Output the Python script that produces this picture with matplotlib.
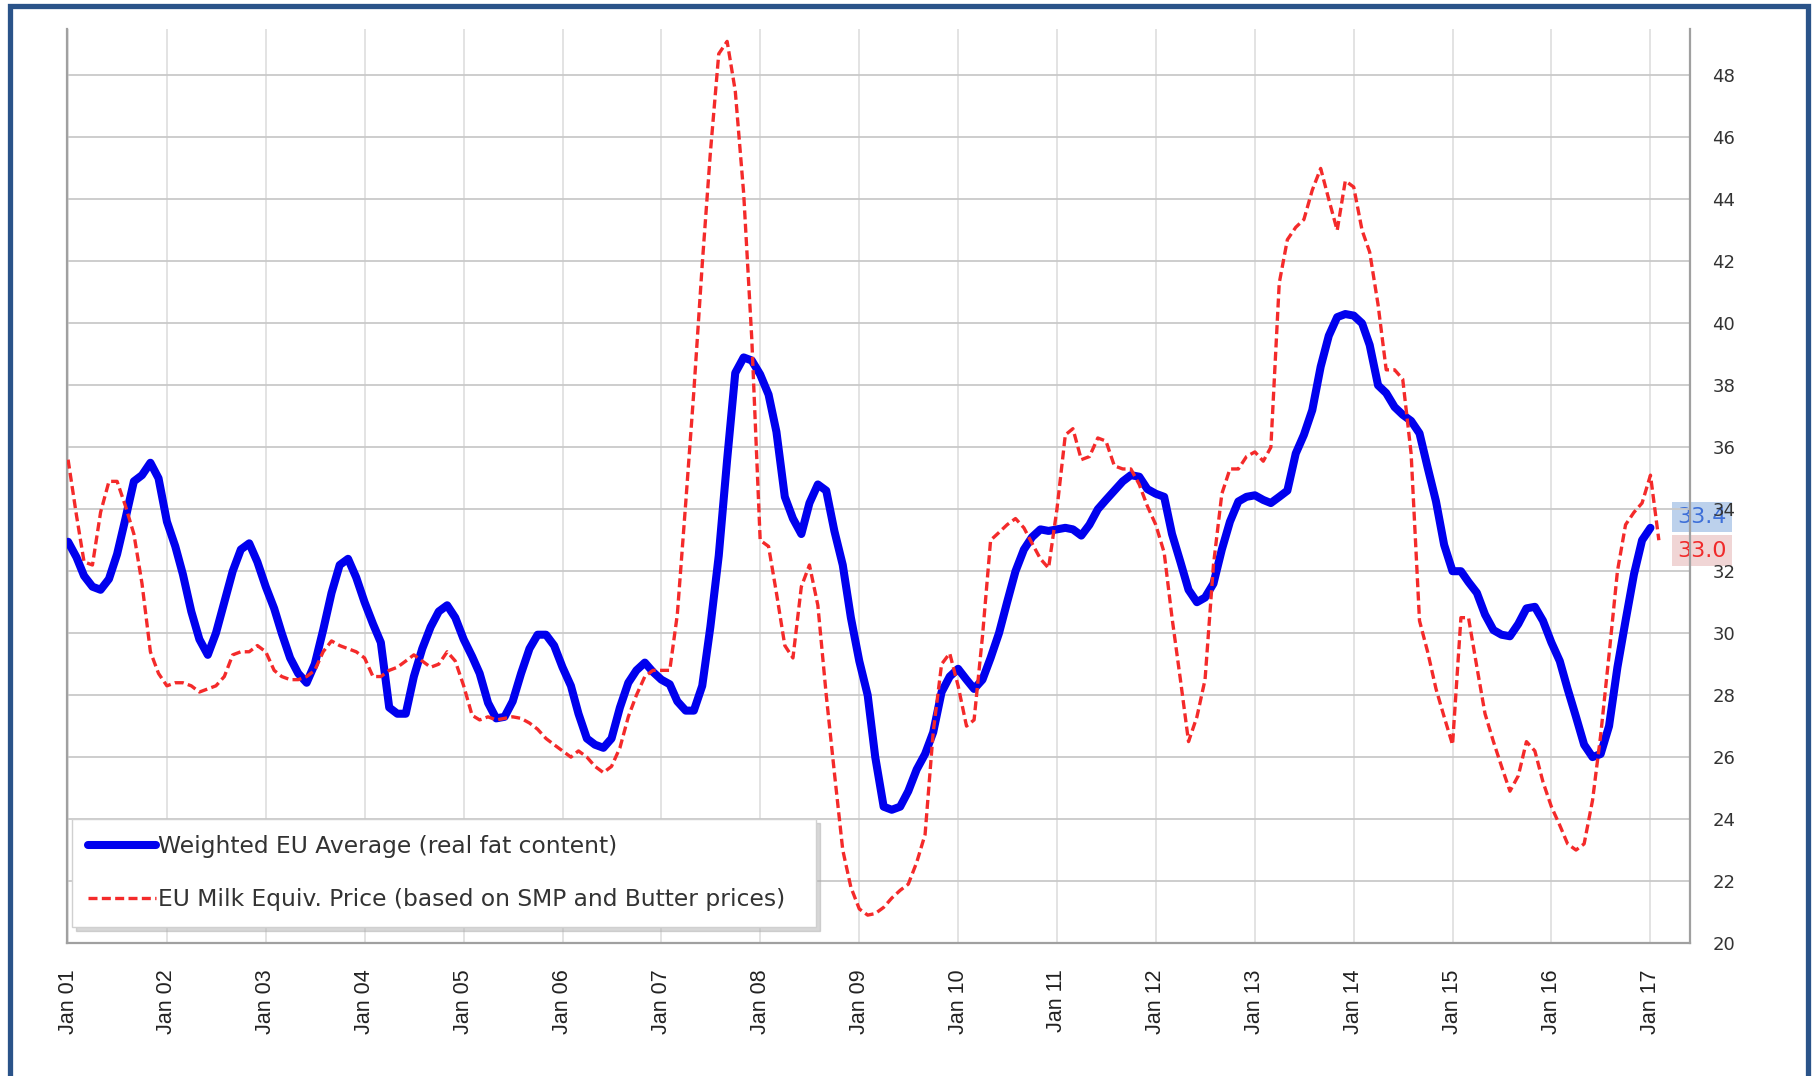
import numpy as np
import pandas as pd
import matplotlib
matplotlib.use("Agg")
import matplotlib.pyplot as plt
import matplotlib.transforms as mtransforms
from matplotlib.patches import Rectangle

# ---------------- data (monthly, from Jan 2001) ----------------
weighted_eu_avg = [
    32.95, 32.45, 31.85, 31.5, 31.4, 31.75, 32.55, 33.7, 34.9, 35.1, 35.5, 35.0,
    33.6, 32.8, 31.9, 30.7, 29.8, 29.3, 30.0, 31.0, 32.0, 32.7, 32.9, 32.3,
    31.5, 30.8, 30.0, 29.2, 28.7, 28.4, 29.0, 30.1, 31.3, 32.2, 32.4, 31.8,
    31.0, 30.3, 29.7, 27.6, 27.4, 27.4, 28.6, 29.5, 30.2, 30.7, 30.9, 30.5,
    29.8, 29.25, 28.7, 27.75, 27.25, 27.3, 27.8, 28.7, 29.5, 29.95, 29.95, 29.6,
    28.9, 28.3, 27.4, 26.6, 26.4, 26.3, 26.6, 27.6, 28.4, 28.8, 29.05, 28.75,
    28.5, 28.35, 27.8, 27.5, 27.5, 28.3, 30.2, 32.5, 35.6, 38.4, 38.9, 38.8,
    38.35, 37.7, 36.5, 34.4, 33.7, 33.2, 34.2, 34.8, 34.6, 33.3, 32.2, 30.5,
    29.1, 28.0, 26.0, 24.4, 24.3, 24.4, 24.9, 25.6, 26.1, 26.8, 28.1, 28.6,
    28.85, 28.5, 28.2, 28.5, 29.2, 30.0, 31.0, 32.0, 32.7, 33.1, 33.35, 33.3,
    33.35, 33.4, 33.35, 33.15, 33.5, 34.0, 34.3, 34.6, 34.9, 35.1, 35.05, 34.65,
    34.5, 34.4, 33.2, 32.3, 31.4, 31.0, 31.15, 31.6, 32.7, 33.6, 34.25, 34.4,
    34.45, 34.3, 34.2, 34.4, 34.6, 35.8, 36.4, 37.2, 38.6, 39.6, 40.2, 40.3,
    40.25, 40.0, 39.3, 38.0, 37.75, 37.3, 37.05, 36.85, 36.45, 35.35, 34.25, 32.85,
    32.0, 32.0, 31.65, 31.3, 30.6, 30.1, 29.95, 29.9, 30.3, 30.8, 30.85, 30.4,
    29.7, 29.1, 28.2, 27.3, 26.4, 26.0, 26.1, 27.0, 28.9, 30.4, 31.9, 33.0, 33.4,
]

milk_equiv_price = [
    35.6, 33.8, 32.3, 32.2, 33.9, 34.9, 34.9, 34.1, 33.2, 31.6, 29.4, 28.7,
    28.3, 28.4, 28.4, 28.3, 28.1, 28.2, 28.3, 28.6, 29.3, 29.4, 29.4, 29.6,
    29.4, 28.8, 28.6, 28.5, 28.5, 28.6, 28.8, 29.4, 29.75, 29.6, 29.5, 29.4,
    29.2, 28.6, 28.6, 28.8, 28.9, 29.1, 29.3, 29.1, 28.9, 29.0, 29.4, 29.1,
    28.3, 27.35, 27.2, 27.3, 27.2, 27.25, 27.3, 27.25, 27.1, 26.9, 26.6, 26.4,
    26.2, 26.0, 26.2, 26.0, 25.7, 25.5, 25.7, 26.3, 27.3, 28.0, 28.6, 28.8,
    28.8, 28.8, 30.6, 34.2, 37.8, 41.9, 45.5, 48.7, 49.1, 47.5, 44.2, 39.5,
    33.0, 32.8, 31.3, 29.6, 29.2, 31.5, 32.2, 30.9, 28.0, 25.5, 23.0, 21.8,
    21.1, 20.9, 20.95, 21.15, 21.45, 21.7, 21.9, 22.6, 23.5, 26.8, 29.0, 29.35,
    28.3, 27.0, 27.2, 29.9, 33.0, 33.25, 33.5, 33.7, 33.4, 32.9, 32.4, 32.1,
    34.0, 36.4, 36.6, 35.6, 35.7, 36.3, 36.2, 35.4, 35.3, 35.3, 34.8, 34.1,
    33.5, 32.6, 30.5, 28.5, 26.5, 27.3, 28.5, 32.2, 34.5, 35.3, 35.3, 35.7,
    35.85, 35.55, 36.0, 41.3, 42.7, 43.1, 43.35, 44.3, 45.0, 44.0, 43.0, 44.6,
    44.4, 43.0, 42.3, 40.6, 38.5, 38.5, 38.2, 35.8, 30.4, 29.4, 28.2, 27.3,
    26.4, 30.5, 30.5, 28.9, 27.4, 26.5, 25.7, 24.9, 25.4, 26.5, 26.2, 25.2,
    24.4, 23.8, 23.2, 23.0, 23.2, 24.6, 26.7, 29.3, 32.0, 33.5, 33.9, 34.2, 35.1, 33.0,
]

tick_labels = ["Jan 01", "Jan 02", "Jan 03", "Jan 04", "Jan 05", "Jan 06", "Jan 07",
               "Jan 08", "Jan 09", "Jan 10", "Jan 11", "Jan 12", "Jan 13", "Jan 14",
               "Jan 15", "Jan 16", "Jan 17"]
y_ticks = list(range(20, 49, 2))
series_names = ["Weighted EU Average (real fat content)",
                "EU Milk Equiv. Price (based on SMP and Butter prices)"]

# ---------------- figure ----------------
W, H = 1813, 1076
fig = plt.figure(figsize=(W / 100, H / 100), dpi=100)
fig.patch.set_facecolor("white")

ax_l, ax_r, ax_t, ax_b = 67, 1690, 29, 943
ax = fig.add_axes([ax_l / W, 1 - ax_b / H, (ax_r - ax_l) / W, (ax_b - ax_t) / H])

dates_blue = pd.date_range("2001-01-01", periods=len(weighted_eu_avg), freq="MS")
dates_red = pd.date_range("2001-01-01", periods=len(milk_equiv_price), freq="MS")
tick_dates = pd.date_range("2001-01-01", periods=len(tick_labels), freq="YS")

ax.plot(dates_blue, weighted_eu_avg, color="#0000ee", lw=5.8,
        solid_capstyle="round", solid_joinstyle="round", zorder=3,
        label=series_names[0])
ax.plot(dates_red, milk_equiv_price, color="#f42a2a", lw=2.4,
        dashes=(2.7, 1.3), zorder=4, label=series_names[1])

ax.set_xlim(pd.Timestamp("2000-12-28"), pd.Timestamp("2017-05-27"))
ax.set_ylim(20, 49.5)

ax.set_xticks(tick_dates)
ax.set_xticklabels(tick_labels, rotation=90, fontsize=15.5,
                   family=["Liberation Sans", "DejaVu Sans"], color="#222222")
ax.set_yticks(y_ticks)
ax.set_yticklabels([str(v) for v in y_ticks], fontsize=13, color="#333333")
ax.yaxis.tick_right()
ax.tick_params(axis="x", length=0, pad=19)
ax.tick_params(axis="y", length=0, pad=16)
for lbl in ax.get_xticklabels():
    lbl.set_verticalalignment("top")

ax.grid(axis="x", color="#e0e0e0", lw=1.3, zorder=0)
ax.grid(axis="y", color="#c9c9c9", lw=1.3, zorder=0)
ax.set_axisbelow(True)
ax.spines["top"].set_visible(False)
for s in ("left", "right", "bottom"):
    ax.spines[s].set_color("#a0a0a0")
    ax.spines[s].set_linewidth(1.6)

# end-value labels (drawn beneath the tick labels, as in the source chart)
trans = mtransforms.blended_transform_factory(ax.transAxes, ax.transData)
ax.annotate(f"{weighted_eu_avg[-1]:.1f}", xy=(1.0074, weighted_eu_avg[-1]), xycoords=trans,
            xytext=(0, 7.8), textcoords="offset points", ha="center", va="center",
            fontsize=16, color="#3d6fd8",
            bbox=dict(boxstyle="square,pad=0.24", fc="#bcd1ec", ec="none"),
            annotation_clip=False, zorder=0.3)
ax.annotate(f"{milk_equiv_price[-1]:.1f}", xy=(1.0074, milk_equiv_price[-1]), xycoords=trans,
            xytext=(0, -7.6), textcoords="offset points", ha="center", va="center",
            fontsize=16, color="#f02a2a",
            bbox=dict(boxstyle="square,pad=0.24", fc="#f0d5d5", ec="none"),
            annotation_clip=False, zorder=0.3)

# legend
leg = ax.legend(loc="upper left",
                bbox_to_anchor=(72 / W, 1 - 927 / H, 744 / W, 108 / H),
                bbox_transform=fig.transFigure, mode="expand",
                fontsize=16.8, handlelength=2.9, handletextpad=0.1,
                labelspacing=1.3, borderpad=0.68, borderaxespad=0,
                frameon=True, fancybox=False, framealpha=1,
                edgecolor="#d0d0d0", labelcolor="#333333",
                shadow={"ox": 3, "oy": -3, "color": "#b0b0b0", "alpha": 0.5})
leg.set_zorder(20)
leg.get_frame().set_linewidth(1.0)

# outer blue frame
fig.patches.append(Rectangle((9.5 / W, -0.05), (1807.5 - 9.5) / W, 1.05 - 5.5 / H,
                             transform=fig.transFigure, fill=False,
                             ec="#2a5389", lw=3.8, zorder=50))

fig.savefig("out.png", dpi=100, facecolor="white")
